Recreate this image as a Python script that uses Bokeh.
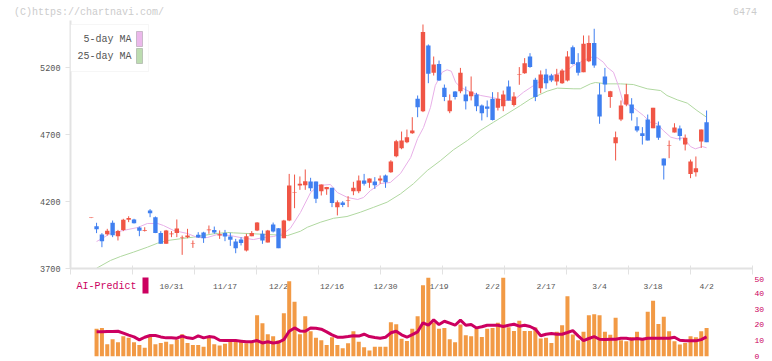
import numpy as np
from bokeh.plotting import figure
from bokeh.models import (Range1d, LinearAxis, FixedTicker, Label, BoxAnnotation,
                          ColumnDataSource, LabelSet, Div)
from bokeh.layouts import column
from bokeh.embed import file_html
from bokeh.resources import INLINE
from bokeh.core.properties import value

# ---------------- data ----------------
opens = [4076, 4016, 3954, 3956, 4041, 3941, 3988, 4063, 4066, 4006,
         3981, 4133, 4083, 3964, 3884, 3956, 3964, 3927, 3934, 3882,
         3951, 3969, 3986, 3988, 3946, 3964, 3939, 3901, 3916, 3834,
         3941, 3984, 3959, 3894, 4028, 4001, 3926, 4058, 4263, 4319,
         4322, 4349, 4349, 4277, 4292, 4302, 4158, 4193, 4206, 4277,
         4277, 4357, 4339, 4349, 4357, 4394, 4419, 4538, 4598, 4643,
         4710, 4966, 4874, 5364, 5160, 5227, 5048, 4874, 5021, 5023,
         4999, 4986, 4999, 4916, 4909, 4966, 4899, 4911, 5058, 4921,
         5146, 5158, 5282, 5108, 5046, 5148, 5140, 5096, 5083, 5103,
         5352, 5240, 5165, 5247, 5382, 4999, 5133, 4979, 4635, 4812,
         4924, 4924, 4762, 4710, 4812, 4747, 4767, 4521, 4616, 4715,
         4745, 4625, 4406, 4419, 4648, 4792]
highs = [4080, 4041, 3964, 3996, 4058, 3988, 4071, 4090, 4071, 4013,
         4008, 4143, 4088, 3979, 3988, 3979, 4066, 3946, 3996, 3909,
         3971, 3974, 4021, 4013, 3984, 3988, 3966, 3921, 3934, 3959,
         3979, 4046, 3984, 3988, 4043, 4001, 4063, 4406, 4401, 4387,
         4439, 4377, 4349, 4327, 4309, 4302, 4208, 4203, 4240, 4347,
         4394, 4406, 4372, 4382, 4394, 4401, 4508, 4660, 4722, 4737,
         4829, 4991, 5521, 5372, 5282, 5252, 5073, 4999, 5024, 5197,
         5058, 5133, 5011, 4924, 4954, 5016, 5016, 5028, 5103, 5016,
         5203, 5270, 5307, 5123, 5178, 5190, 5153, 5190, 5190, 5322,
         5364, 5307, 5439, 5439, 5489, 5083, 5197, 5026, 4722, 4954,
         5078, 4971, 4829, 4755, 4849, 4899, 4797, 4521, 4655, 4784,
         4767, 4700, 4513, 4536, 4737, 4879]
lows = [4076, 3964, 3859, 3946, 3934, 3909, 3979, 4046, 4036, 3941,
        3976, 4083, 3964, 3884, 3884, 3934, 3934, 3802, 3926, 3854,
        3929, 3891, 3959, 3959, 3921, 3904, 3869, 3814, 3872, 3827,
        3941, 3979, 3884, 3894, 3969, 3852, 3926, 4053, 4150, 4287,
        4287, 4277, 4188, 4245, 4250, 4158, 4096, 4158, 4158, 4247,
        4262, 4319, 4302, 4294, 4332, 4302, 4414, 4530, 4590, 4635,
        4705, 4829, 4867, 5083, 5140, 5100, 4949, 4859, 4961, 5008,
        4887, 4954, 4874, 4805, 4829, 4805, 4879, 4874, 4954, 4909,
        5071, 5153, 5198, 4949, 5008, 5041, 5091, 5066, 5078, 5096,
        5222, 5140, 5165, 5240, 5198, 4780, 5016, 4899, 4506, 4800,
        4911, 4804, 4717, 4625, 4655, 4747, 4660, 4364, 4523, 4715,
        4655, 4581, 4374, 4386, 4600, 4643]
closes = [4080, 3993, 3904, 3981, 3949, 3979, 4063, 4076, 4038, 3981,
          3988, 4113, 3964, 3884, 3984, 3962, 3998, 3931, 3946, 3887,
          3931, 3926, 3991, 3969, 3956, 3939, 3914, 3852, 3891, 3941,
          3964, 4043, 3909, 3984, 3976, 3852, 4058, 4319, 4268, 4332,
          4352, 4299, 4220, 4327, 4309, 4188, 4195, 4173, 4210, 4302,
          4357, 4332, 4372, 4322, 4372, 4344, 4498, 4650, 4655, 4680,
          4730, 4904, 5464, 5153, 5222, 5103, 4979, 4954, 4979, 5160,
          4949, 5021, 4911, 4859, 4892, 4809, 4966, 4999, 4954, 4984,
          5150, 5232, 5203, 4979, 5148, 5083, 5103, 5148, 5178, 5282,
          5227, 5160, 5377, 5382, 5215, 4834, 5073, 5023, 4680, 4916,
          5000, 4859, 4730, 4688, 4655, 4899, 4675, 4469, 4620, 4752,
          4688, 4675, 4498, 4449, 4737, 4643]

# 5-day and 25-day moving averages, read at sampled candle positions
ma5_idx = [1.0, 3.6, 6.0, 8.7, 10.5, 12.4, 13.5, 15.4, 18.0, 19.9, 21.7, 23.6,
           26.0, 27.9, 30.3, 32.2, 34.1, 35.9, 37.2, 39.1, 41.0, 42.5, 44.7,
           46.0, 47.9, 49.8, 50.9, 52.2, 54.1, 55.9, 57.8, 59.7, 61.0, 62.1,
           63.4, 64.3, 65.6, 66.5, 67.3, 68.1, 69.0, 70.9, 72.8, 75.2, 77.1,
           78.9, 80.8, 82.7, 84.5, 87.1, 88.9, 90.1, 91.4, 93.3, 94.6, 95.7,
           96.4, 97.6, 98.5, 99.5, 100.8, 102.0, 103.2, 104.5, 105.8, 106.9,
           108.3, 109.5, 110.7, 112.0, 112.9, 114.2, 115.0]
ma5_val = [3901, 3961, 3984, 4006, 4036, 4036, 4021, 3984, 3961, 3931, 3931, 3954,
           3946, 3931, 3916, 3931, 3939, 3961, 3999, 4118, 4267, 4319, 4327,
           4267, 4230, 4215, 4230, 4282, 4334, 4342, 4409, 4528, 4670, 4752,
           4902, 5066, 5165, 5183, 5172, 5090, 5053, 5016, 4991, 4974, 4954,
           4954, 5016, 5066, 5116, 5153, 5178, 5215, 5240, 5277, 5272, 5240,
           5202, 5165, 5066, 4929, 4916, 4879, 4842, 4792, 4780, 4730,
           4680, 4668, 4675, 4610, 4593, 4610, 4601]
ma25_idx = [1.0, 3.6, 5.5, 7.9, 10.5, 12.4, 14.3, 16.7, 19.1, 22.9, 25.5, 26.6,
            30.3, 32.9, 36.7, 39.1, 40.4, 42.9, 45.3, 47.8, 50.3, 52.8, 55.3,
            57.8, 60.2, 62.8, 65.3, 67.7, 70.3, 72.7, 75.2, 77.7, 80.2, 82.1,
            85.2, 87.1, 90.2, 91.4, 93.3, 94.2, 96.4, 98.9, 101.3, 103.9, 106.4,
            107.6, 109.5, 111.4, 113.2, 115.0]
ma25_val = [3702, 3760, 3790, 3822, 3859, 3889, 3909, 3922, 3934, 3959, 3969, 3966,
            3959, 3954, 3946, 3978, 4008, 4046, 4075, 4088, 4120, 4157, 4195,
            4257, 4332, 4431, 4506, 4586, 4655, 4730, 4792, 4854, 4916, 4966,
            5023, 5046, 5041, 5041, 5078, 5088, 5078, 5078, 5073, 5041, 5028,
            4991, 4959, 4934, 4879, 4829]

# volume (orange bars) and AI-Predict line, candles 1..115, right-axis units
volume = [17.5, 18.1, 7.8, 10.9, 9.0, 12.8, 11.8, 9.0, 7.2, 5.5,
          12.4, 7.8, 8.6, 9.3, 7.8, 10.7, 14.1, 8.6, 7.2, 7.2,
          6.1, 12.4, 7.8, 7.0, 8.0, 9.3, 10.3, 9.3, 8.4, 8.6,
          26.1, 21.1, 14.1, 12.8, 10.3, 27.4, 47.7, 34.6, 14.1, 25.5,
          16.0, 11.8, 10.3, 7.2, 12.2, 7.2, 5.3, 8.4, 16.0, 9.3,
          5.9, 3.8, 6.1, 6.1, 6.1, 21.7, 20.4, 11.2, 9.8, 17.5,
          25.5, 45.1, 49.8, 21.5, 17.5, 18.1, 10.9, 9.0, 20.2, 13.5,
          12.8, 17.5, 12.4, 17.5, 18.1, 21.3, 49.8, 18.5, 16.2, 22.6,
          16.2, 16.2, 18.3, 11.4, 11.8, 8.6, 15.6, 19.8, 38.1, 13.9,
          10.3, 15.6, 26.1, 26.7, 26.1, 15.6, 13.7, 24.5, 10.3, 9.7,
          12.4, 15.6, 11.4, 28.3, 35.3, 20.6, 25.1, 16.0, 9.7, 7.6,
          8.6, 12.8, 12.2, 16.0, 18.1]
ai_predict = [15.6, 15.6, 15.8, 15.8, 16.0, 14.8, 13.5, 12.4, 10.5, 12.2,
              13.3, 13.3, 12.4, 11.8, 11.8, 11.6, 12.9, 11.8, 11.4, 13.1,
              11.8, 12.6, 12.2, 10.3, 10.1, 10.1, 10.1, 9.7, 9.3, 9.3,
              10.1, 8.6, 9.3, 8.6, 9.0, 10.7, 16.0, 18.1, 16.2, 16.0,
              18.1, 17.9, 17.3, 15.6, 13.7, 12.2, 12.2, 12.6, 13.1, 12.9,
              14.1, 12.6, 12.0, 11.6, 12.2, 15.0, 16.0, 13.7, 12.2, 13.9,
              15.6, 21.3, 19.8, 23.2, 20.2, 22.3, 21.1, 19.8, 23.0, 19.8,
              20.2, 18.1, 18.8, 19.8, 19.8, 19.8, 19.0, 19.8, 20.4, 19.2,
              19.8, 19.0, 17.3, 13.1, 14.1, 14.5, 14.1, 14.1, 15.2, 16.4,
              13.1, 10.1, 11.4, 12.6, 10.9, 10.7, 10.9, 10.9, 11.6, 11.6,
              10.9, 11.4, 10.9, 11.6, 11.6, 11.6, 11.6, 11.6, 12.2, 10.3,
              9.9, 9.9, 9.9, 10.7, 12.4]

date_labels = ["10/31", "11/17", "12/2", "12/16", "12/30", "1/19",
               "2/2", "2/17", "3/4", "3/18", "4/2"]
date_label_idx = [15, 25, 35, 45, 55, 65, 75, 85, 95, 105, 115]
price_ticks = [3700, 4200, 4700, 5200]
ai_ticks = [0, 10, 20, 30, 40, 50]

# ---------------- styling ----------------
FONT = "Liberation Mono"
RED = "#f05545"
BLUE = "#3f7ff0"
ORANGE = "#f29a45"
CRIMSON = "#cc0060"
PINK = "#e8b0e8"
GREEN = "#b0d8a0"
AXIS = "#e2e2e2"
TXT = "#555555"

W = 772
X0, X1 = -3.87, 123.58
xr = Range1d(X0, X1)


def base_fig(height, yr, **borders):
    f = figure(width=W, height=height, x_range=xr, y_range=yr,
               output_backend="svg", toolbar_location=None,
               x_axis_type=None, y_axis_type=None, **borders)
    f.outline_line_color = None
    f.background_fill_color = "white"
    f.border_fill_color = "white"
    return f


# ---------------- header row (watermark + code) ----------------
hdr = Div(text=("<div style=\"display:flex;justify-content:space-between;"
                "box-sizing:border-box;width:772px;padding:7px 15px 0 14px;"
                "font-family:'Liberation Mono',monospace;font-size:10px;"
                "line-height:11px;color:#cccccc;white-space:nowrap;\">"
                "<span>(C)https://chartnavi.com/</span><span>6474</span></div>"),
          width=W, height=20, margin=(0, 0, 0, 0))

# ---------------- price panel ----------------
PTOP = 3700 + 248 * 7.4627
pa = base_fig(256, Range1d(3700, PTOP), min_border_left=70, min_border_right=20,
              min_border_top=0, min_border_bottom=8)

yax = LinearAxis(ticker=FixedTicker(ticks=price_ticks), bounds=(3700, PTOP))
yax.axis_line_color = AXIS
yax.axis_line_width = 2
yax.major_tick_line_color = AXIS
yax.major_tick_line_width = 1
yax.major_tick_in = 0
yax.major_tick_out = 5
yax.minor_tick_line_color = None
yax.major_label_standoff = 5
yax.major_label_text_font = FONT
yax.major_label_text_font_size = "8.5px"
yax.major_label_text_color = TXT
pa.add_layout(yax, "left")

xax = LinearAxis(ticker=FixedTicker(ticks=list(np.linspace(X0, X1, 12))))
xax.axis_line_color = AXIS
xax.axis_line_width = 2
xax.major_tick_line_color = AXIS
xax.major_tick_line_width = 1
xax.major_tick_in = 3
xax.major_tick_out = 6
xax.minor_tick_line_color = None
xax.major_label_text_font_size = "1px"
xax.major_label_text_color = None
pa.add_layout(xax, "below")

# moving averages (behind candles)
pa.line(ma25_idx, ma25_val, line_color=GREEN, line_width=1)
pa.line(ma5_idx, ma5_val, line_color=PINK, line_width=1)

o = np.array(opens, float)
c = np.array(closes, float)
h = np.array(highs, float)
l = np.array(lows, float)
ix = np.arange(len(o))
up = c >= o
for mask, col in ((up, RED), (~up, BLUE)):
    src = ColumnDataSource(dict(x=ix[mask], top=np.maximum(o, c)[mask],
                                bottom=np.minimum(o, c)[mask],
                                hi=h[mask], lo=l[mask]))
    pa.segment(x0="x", y0="lo", x1="x", y1="hi", source=src,
               line_color=col, line_width=1)
    pa.vbar(x="x", width=0.82, top="top", bottom="bottom", source=src,
            fill_color=col, line_color=None)

# legend box (frame: x from 70, bottom at y=268)
pa.add_layout(BoxAnnotation(left=0, right=78, top=244, bottom=197,
                            left_units="screen", right_units="screen",
                            top_units="screen", bottom_units="screen",
                            fill_color="white", fill_alpha=1.0,
                            line_color="#e0e0e0", line_width=1))
pa.add_layout(BoxAnnotation(left=66, right=72, top=237, bottom=222,
                            left_units="screen", right_units="screen",
                            top_units="screen", bottom_units="screen",
                            fill_color="#ebb8eb", fill_alpha=1.0,
                            line_color="#666666", line_width=1))
pa.add_layout(BoxAnnotation(left=66, right=72, top=220, bottom=205,
                            left_units="screen", right_units="screen",
                            top_units="screen", bottom_units="screen",
                            fill_color="#bcdcb0", fill_alpha=1.0,
                            line_color="#666666", line_width=1))
pa.add_layout(Label(x=61, y=229, x_units="screen", y_units="screen",
                    text="5-day MA", text_font=FONT, text_font_size="10px",
                    text_color=TXT, text_baseline="middle", text_align="right"))
pa.add_layout(Label(x=61, y=212, x_units="screen", y_units="screen",
                    text="25-day MA", text_font=FONT, text_font_size="10px",
                    text_color=TXT, text_baseline="middle", text_align="right"))

# ---------------- volume / AI panel ----------------
VTOP = 80 / 1.58
pb = base_fig(85, Range1d(0, VTOP), min_border_left=70, min_border_right=20,
              min_border_top=0, min_border_bottom=5)

rax = LinearAxis(ticker=FixedTicker(ticks=ai_ticks))
rax.axis_line_color = None
rax.major_tick_line_color = None
rax.minor_tick_line_color = None
rax.major_tick_in = 0
rax.major_tick_out = 0
rax.major_label_standoff = 2
rax.major_label_text_font = FONT
rax.major_label_text_font_size = "8px"
rax.major_label_text_color = CRIMSON
pb.add_layout(rax, "right")

lab_src = ColumnDataSource(dict(x=date_label_idx, text=date_labels))
pb.add_layout(LabelSet(x="x", y=70, y_units="screen", text="text", source=lab_src,
                       text_font=value(FONT), text_font_size=value("8px"),
                       text_color=TXT, text_align="center",
                       text_baseline="middle", level="underlay"))

vol_idx = list(range(1, len(volume) + 1))
pb.vbar(x=vol_idx, top=volume, width=0.75, fill_color=ORANGE, line_color=None)
pb.line(vol_idx, ai_predict, line_color=CRIMSON, line_width=3)

pb.add_layout(Label(x=6, y=70, x_units="screen", y_units="screen",
                    text="AI-Predict", text_font=FONT, text_font_size="10px",
                    text_color=CRIMSON, text_baseline="middle", text_align="left"))
pb.add_layout(BoxAnnotation(left=72, right=78, top=79, bottom=63,
                            left_units="screen", right_units="screen",
                            top_units="screen", bottom_units="screen",
                            fill_color=CRIMSON, fill_alpha=1.0, line_color=None))

layout = column(hdr, pa, pb, spacing=0)
open("out.html", "w").write(file_html(layout, INLINE))
